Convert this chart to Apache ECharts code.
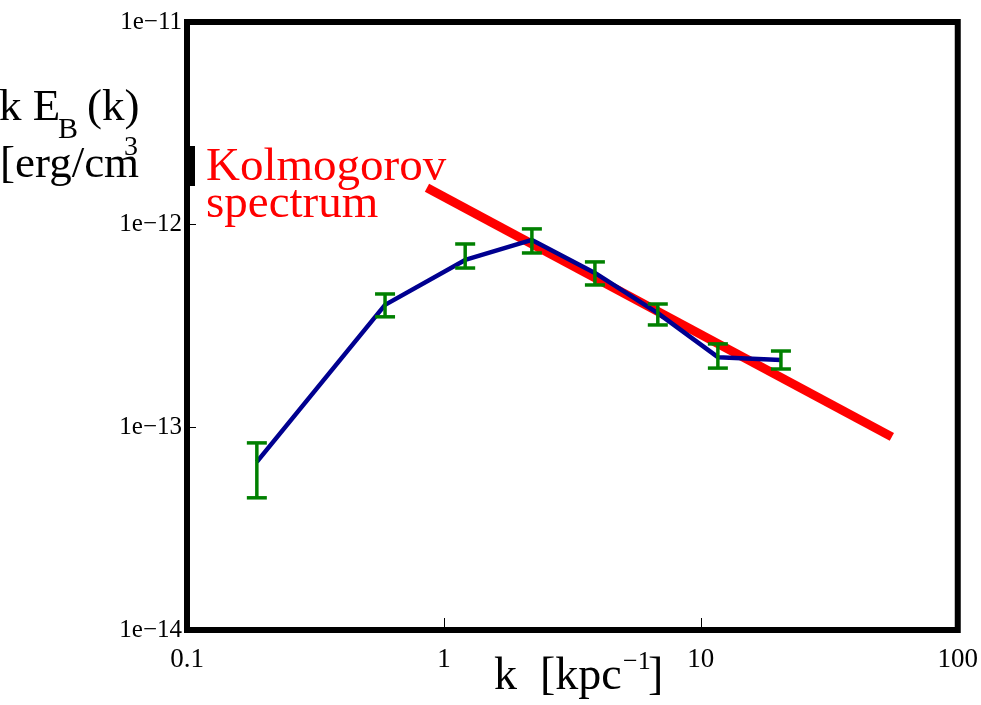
<!DOCTYPE html>
<html style="height: 100%">
<head>
<meta charset="utf-8">
</head>
<body style="height: 100%; margin: 0; background: #fff">
<div id="container" style="width: 981px; height: 705px"></div>
<script type="text/javascript" src="https://cdn.jsdelivr.net/npm/echarts@6/dist/echarts.min.js"></script>
<script type="text/javascript">
// wavenumber k [kpc^-1]
var kValues = [0.187, 0.59, 1.21, 2.2, 3.87, 6.8, 11.65, 20.5];
// k E_B(k) [erg/cm^3]
var spectrum = [6.75e-14, 4.02e-13, 6.7e-13, 8.41e-13, 5.78e-13, 3.66e-13, 2.22e-13, 2.15e-13];
var errLow  = [4.49e-14, 3.51e-13, 6.11e-13, 7.25e-13, 5.04e-13, 3.2e-13, 1.96e-13, 1.94e-13];
var errHigh = [8.38e-14, 4.55e-13, 8.03e-13, 9.53e-13, 6.55e-13, 4.06e-13, 2.58e-13, 2.38e-13];
// Kolmogorov reference line, two end points
var kolmoK = [0.859, 55.4];
var kolmoE = [1.52e-12, 8.97e-14];

var xTicks = ['0.1', '1', '10', '100'];
var yTicks = ['1e\u221214', '1e\u221213', '1e\u221212', '1e\u221211'];

var serif = '"Liberation Serif", "Times New Roman", serif';

var dom = document.getElementById('container');
var myChart = echarts.init(dom);

var lineData = kValues.map(function (k, i) { return [k, spectrum[i]]; });
var errData = kValues.map(function (k, i) { return [k, errLow[i], errHigh[i]]; });
var kolmoData = kolmoK.map(function (k, i) { return [k, kolmoE[i]]; });

function txt(x, y, text, size, color, align) {
    return {
        type: 'text', x: x, y: y, z: 10,
        style: {
            text: text, fill: color || '#000',
            font: size + 'px ' + serif,
            textAlign: align || 'left', textVerticalAlign: 'middle'
        }
    };
}

var option = {
    animation: false,
    backgroundColor: '#fff',
    grid: {
        left: 187, right: 23, top: 22, bottom: 75,
        show: true, borderColor: '#000', borderWidth: 6
    },
    xAxis: {
        type: 'log', logBase: 10, min: 0.1, max: 100,
        axisLine: {show: false},
        splitLine: {show: false},
        axisTick: {show: true, inside: true, length: 12, lineStyle: {color: '#000', width: 1}},
        minorTick: {show: false},
        axisLabel: {
            color: '#000', fontFamily: serif, fontSize: 27, margin: 16,
            formatter: function (v) { return xTicks[Math.round(Math.log10(v)) + 1]; }
        }
    },
    yAxis: {
        type: 'log', logBase: 10, min: 1e-14, max: 1e-11,
        axisLine: {show: false},
        splitLine: {show: false},
        axisTick: {show: true, inside: true, length: 9, lineStyle: {color: '#000', width: 1}},
        axisLabel: {
            color: '#000', fontFamily: serif, fontSize: 25, margin: 5,
            formatter: function (v) { return yTicks[Math.round(Math.log10(v)) + 14]; }
        }
    },
    series: [
        {
            type: 'line', data: kolmoData, symbol: 'none', z: 2,
            lineStyle: {color: '#ff0000', width: 9, cap: 'butt'}
        },
        {
            type: 'line', data: lineData, symbol: 'none', z: 3,
            lineStyle: {color: '#000090', width: 4.5}
        },
        {
            type: 'custom', data: errData, z: 4,
            renderItem: function (params, api) {
                var lo = api.coord([api.value(0), api.value(1)]);
                var hi = api.coord([api.value(0), api.value(2)]);
                var hw = 10;
                var st = {stroke: '#008000', lineWidth: 3.5};
                return {
                    type: 'group',
                    children: [
                        {type: 'line', shape: {x1: lo[0], y1: lo[1], x2: hi[0], y2: hi[1]}, style: st},
                        {type: 'line', shape: {x1: lo[0] - hw, y1: lo[1], x2: lo[0] + hw, y2: lo[1]}, style: st},
                        {type: 'line', shape: {x1: hi[0] - hw, y1: hi[1], x2: hi[0] + hw, y2: hi[1]}, style: st}
                    ]
                };
            }
        }
    ],
    graphic: [
        txt(-1, 108, 'k E', 45),
        txt(58, 130, 'B', 30),
        txt(87, 108, '(k)', 45),
        txt(0, 165, '[erg/cm', 45),
        txt(124, 148, '3', 28),
        // closing bracket stem peeking out behind the frame
        {type: 'rect', z: 10, shape: {x: 189, y: 146, width: 6, height: 40}, style: {fill: '#000'}},
        txt(206, 168, 'Kolmogorov', 47, '#ff0000'),
        txt(206, 205, 'spectrum', 47, '#ff0000'),
        txt(494, 677, 'k  [kpc', 46),
        txt(623, 662, '\u22121', 26),
        txt(648, 677, ']', 46)
    ]
};

myChart.setOption(option);
</script>
</body>
</html>
